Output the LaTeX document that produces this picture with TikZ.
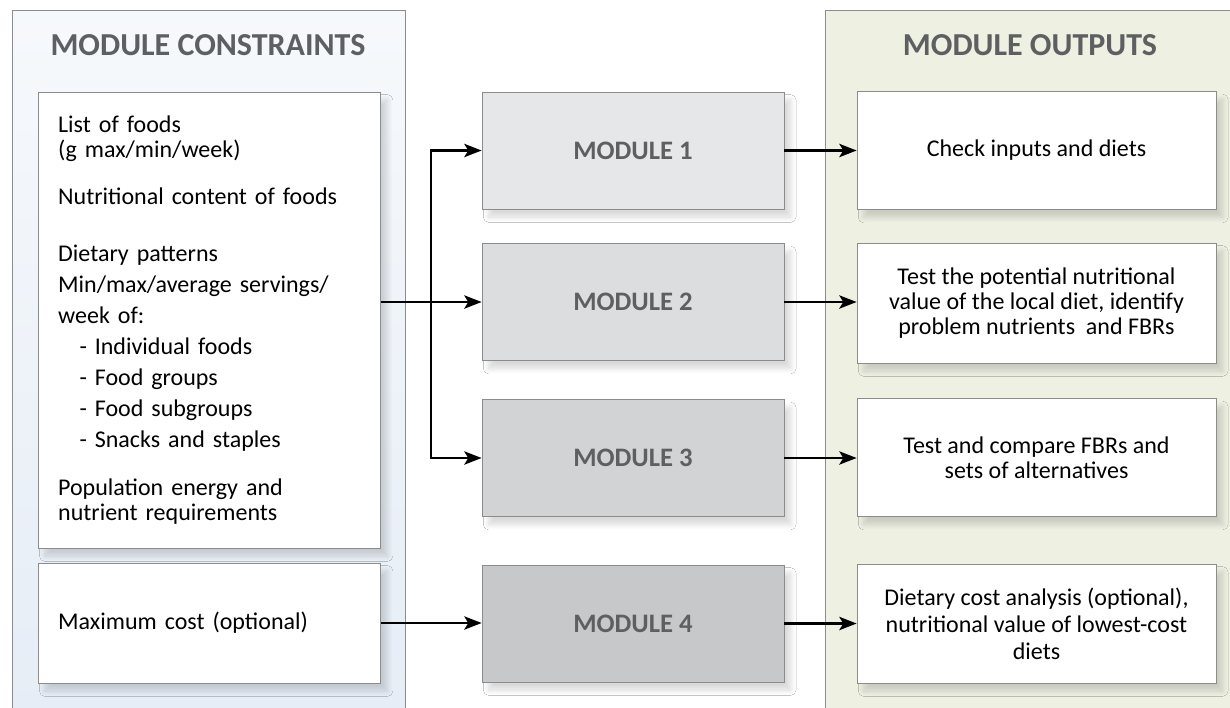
\documentclass[tikz,border=0pt]{standalone}
\usepackage{fontspec}
\setmainfont{Carlito}
\usetikzlibrary{arrows.meta,shadows.blur}

\definecolor{headgray}{HTML}{5E5F61}
\definecolor{bluepanel}{HTML}{E6EDF6}
\definecolor{greenpanel}{HTML}{EEF0E2}
\definecolor{boxline}{HTML}{8C8C8C}
\definecolor{modA}{HTML}{E6E7E8}
\definecolor{modB}{HTML}{DCDDDF}
\definecolor{modC}{HTML}{D2D3D5}
\definecolor{modD}{HTML}{C7C8CA}

\newcommand{\bodysize}{\fontsize{18pt}{18.75pt}\selectfont}
\newcommand{\headsize}{\fontsize{24pt}{28pt}\selectfont}
\newcommand{\modsize}{\fontsize{20pt}{24pt}\selectfont}

\begin{document}
\begin{tikzpicture}[x=0.75pt,y=-0.75pt,
    panel/.style={draw=gray!90,line width=0.6pt},
    head/.style={font=\headsize\bfseries,text=headgray},
    soft/.style={blur shadow={shadow xshift=5pt,shadow yshift=-6pt,shadow blur steps=8,shadow blur radius=4pt,shadow opacity=15}},
    inbox/.style={soft,draw=boxline,fill=white,line width=0.6pt,font=\bodysize,align=left,
        text width=227pt,inner xsep=15pt,minimum height=#1},
    M/.style={soft,draw=boxline,fill=#1,line width=0.6pt,minimum width=226.5pt,minimum height=87.75pt,
        font=\modsize\bfseries,text=headgray},
    outbox/.style={soft,draw=boxline,fill=white,line width=0.6pt,minimum width=269.25pt,minimum height=88.5pt,
        font=\bodysize,align=center},
    link/.style={->,>={Stealth[length=13pt,width=10pt,inset=3pt]},line width=1.6pt},
]
\useasboundingbox (0,0) rectangle (1230,707);

% panels
\fill[white] (0,0) rectangle (1230,707);
\fill[top color=bluepanel!35,bottom color=bluepanel] (12,10) rectangle (405,720);
\draw[panel] (12,720) -- (12,10) -- (405,10) -- (405,720);
\fill[greenpanel] (825,10) rectangle (1240,720);
\draw[panel] (1240,10) -- (825,10) -- (825,720);
\node[head] at (208,45) (hcon) {MODULE CONSTRAINTS};
\node[head] at (1030,45) (hout) {MODULE OUTPUTS};

% constraints
\node[inbox=342pt] at (209.5,320) (in1) {List of foods\\
(g max/min/week)\\[17pt]
Nutritional content of foods\\[24pt]
Dietary patterns\\[4.5pt]
Min/max/average servings/\\[4.5pt]
week of:\\[4.5pt]
\hspace*{16pt}- Individual foods\\[4.5pt]
\hspace*{16pt}- Food groups\\[4.5pt]
\hspace*{16pt}- Food subgroups\\[4.5pt]
\hspace*{16pt}- Snacks and staples\\[17pt]
Population energy and\\
nutrient requirements};
\node[inbox=90pt] at (209.5,623) (in2) {Maximum cost (optional)};

% modules
\node[M=modA] at (633,150.5) (m1) {MODULE 1};
\node[M=modB] at (633,302) (m2) {MODULE 2};
\node[M=modC] at (633,458) (m3) {MODULE 3};
\node[M=modD] at (633,623.5) (m4) {MODULE 4};

% outputs
\node[outbox] at (1036.5,150.5) (out1) {Check inputs and diets};
\node[outbox,minimum height=90pt] at (1036.5,303) (out2) {Test the potential nutritional\\value of the local diet, identify\\problem nutrients\ \ and FBRs};
\node[outbox] at (1036.5,457.5) (out3) {Test and compare FBRs and\\sets of alternatives};
\node[outbox,minimum height=89.25pt] at (1036.5,623.5) (out4) {Dietary cost analysis (optional),\\[1.5pt]nutritional value of lowest-cost\\[1.5pt]diets};

% inputs to modules
\coordinate (split) at (431,302);
\draw[link] (in1.east |- m2) -- (m2);
\draw[link] (split) |- (m1);
\draw[link] (split) |- (m3);
\draw[link] (in2) -- (in2 -| m4.west);

% modules to outputs
\draw[link] (m1) -- (out1);
\draw[link] (m2) -- (m2 -| out2.west);
\draw[link] (m3) -- (m3 -| out3.west);
\draw[link] (m4) -- (out4);
\end{tikzpicture}
\end{document}
